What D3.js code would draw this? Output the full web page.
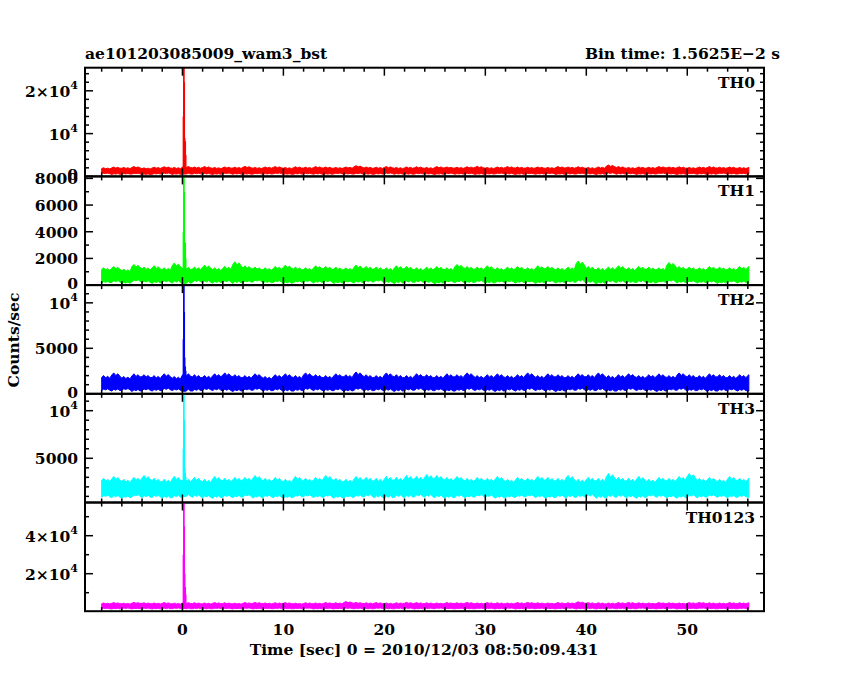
<!DOCTYPE html>
<html><head><meta charset="utf-8">
<script src="https://cdn.jsdelivr.net/npm/d3@7"></script>
<style>
body{margin:0;background:#fff}
text{font-family:"DejaVu Serif",serif;font-weight:bold;fill:#000}
</style></head>
<body><svg id="chart" width="850" height="680"></svg>
<script>
// per-second envelope of the 1/64 s light curves, t = -8 .. 55
const seconds = d3.range(-8, 56);
const th0Hi = [2000,2200,2100,2300,2000,2150,2250,2100,2400,2200,2300,2100,2200,2150,2350,2100,2200,2300,2100,2250,2150,2300,2200,2100,2200,2500,2200,2150,2300,2100,2200,2250,2100,2300,2200,2150,2250,2350,2100,2200,2300,2200,2150,2200,2100,2300,2200,2250,2100,2200,2650,2300,2100,2200,2150,2300,2200,2250,2100,2200,2300,2150,2200,2100];
const th0Lo = [600,450,500,550,400,500,600,450,500,550,500,450,600,500,450,550,500,600,450,500,550,500,450,600,500,550,450,500,600,500,450,550,500,450,600,500,550,450,500,600,500,450,550,500,600,450,500,550,500,450,600,500,550,450,500,600,500,450,550,500,450,600,500,550];
const th1Hi = [1300,1400,1200,1550,1350,1450,1300,1650,1400,1350,1500,1300,1400,1750,1450,1350,1300,1400,1500,1350,1300,1450,1400,1350,1300,1500,1400,1350,1300,1450,1400,1300,1350,1400,1300,1550,1400,1350,1450,1300,1350,1400,1300,1450,1400,1300,1350,1800,1400,1300,1350,1450,1300,1400,1350,1300,1700,1400,1350,1300,1400,1350,1300,1400];
const th1Lo = [150,200,100,250,180,120,200,150,100,220,180,150,200,120,180,250,150,200,100,180,220,150,200,120,180,150,200,250,150,120,180,200,150,100,200,180,150,220,120,180,200,150,180,120,200,150,180,220,150,100,200,180,150,200,120,180,220,150,200,150,180,120,200,150];
const th2Hi = [2000,2300,1900,2200,2100,2000,2200,1900,2300,2100,2000,2200,2300,2100,2000,2200,1900,2100,2200,2000,2300,2100,2000,2200,2100,2400,2100,2000,2300,2100,2000,2200,2100,2000,2200,2100,2300,2000,2100,2200,2000,2100,2300,2000,2200,2100,2000,2200,2100,2300,2000,2100,2200,2000,2100,2200,2000,2300,2100,2000,2200,2100,2000,2100];
const th2Lo = [350,300,400,250,350,300,400,350,250,300,400,350,300,250,350,400,300,350,250,300,400,350,300,350,250,400,300,350,300,250,350,400,300,350,250,300,400,350,300,250,350,300,400,350,300,250,350,400,300,350,250,300,400,350,300,250,350,400,300,350,250,300,350,300];
const th3Hi = [2900,3100,2800,3000,3200,2900,2800,3100,2900,3000,2800,3100,2900,3000,3000,3200,2900,3000,2800,3100,2900,3000,3200,2900,2800,3100,3000,2900,3100,3000,3200,3100,3300,3200,3000,3100,2900,3000,2900,3100,2800,3000,2900,3100,3000,2900,3200,2800,3000,2900,3400,3000,2900,3100,2800,3000,2900,3100,3400,2900,3000,2800,3100,2900];
const th3Lo = [900,850,800,950,850,900,800,850,950,900,850,800,900,850,950,800,900,850,800,900,950,850,900,800,850,900,950,850,800,900,850,950,900,850,800,900,850,950,900,800,850,900,950,850,800,900,850,900,950,800,850,900,850,800,950,900,850,800,900,850,950,900,850,900];
const thAllHi = [4600,4800,4500,4900,4700,4600,4800,4500,4900,4700,4600,4800,4700,4500,4800,4900,4600,4700,4800,4500,4700,4600,4800,4700,5300,4900,4700,4800,4600,4700,4900,4800,4700,4600,4800,4700,4900,4600,4800,4700,4600,4800,4900,4700,4600,4800,4700,5200,4800,4700,4600,4800,4900,4700,4600,4800,4700,4600,4800,4900,4700,4600,4800,4700];
const thAllLo = [1500,1400,1600,1450,1550,1400,1500,1600,1450,1500,1400,1550,1500,1450,1600,1400,1500,1550,1450,1500,1600,1400,1500,1450,1550,1500,1400,1600,1450,1500,1550,1400,1500,1600,1450,1500,1400,1550,1500,1450,1600,1400,1500,1550,1450,1500,1600,1400,1500,1450,1550,1500,1400,1600,1450,1500,1550,1400,1500,1600,1450,1500,1400,1550];
// burst bins (time, counts/sec per band)
const burstT = [0.08, 0.12, 0.16, 0.2, 0.24, 0.3, 0.34];
const th0Burst = [14000, 30000, 30000, 22000, 9000, 8200, 5000];
const th1Burst = [4000, 9000, 9000, 7000, 3000, 3200, 2000];
const th2Burst = [6000, 13000, 13000, 9000, 4000, 3000, 2500];
const th3Burst = [6000, 13000, 13000, 9000, 4000, 3500, 3000];
const thAllBurst = [30000, 60000, 60000, 45000, 20000, 13000, 9000];

const panels = [
  {name: "TH0", color: "#ff0000", hi: th0Hi, lo: th0Lo, burst: th0Burst, domain: [0, 25400], ticks: [0, 10000, 20000], minor: 2000, labels: ["0", "1e4", "2e4"]},
  {name: "TH1", color: "#00ff00", hi: th1Hi, lo: th1Lo, burst: th1Burst, domain: [0, 8150], ticks: [0, 2000, 4000, 6000, 8000], minor: 1000, labels: ["0", "2000", "4000", "6000", "8000"]},
  {name: "TH2", color: "#0000ff", hi: th2Hi, lo: th2Lo, burst: th2Burst, domain: [0, 11950], ticks: [0, 5000, 10000], minor: 1000, labels: ["0", "5000", "1e4"]},
  {name: "TH3", color: "#00ffff", hi: th3Hi, lo: th3Lo, burst: th3Burst, domain: [357, 11775], ticks: [5000, 10000], minor: 1000, labels: ["5000", "1e4"]},
  {name: "TH0123", color: "#ff00ff", hi: thAllHi, lo: thAllLo, burst: thAllBurst, domain: [260, 57470], ticks: [20000, 40000], minor: 10000, labels: ["2e4", "4e4"]}
];

const plotLeft = 85, plotRight = 764, plotTop = 67.7, panelH = 108.7;
const svg = d3.select("#chart");
const x = d3.scaleLinear().domain([-9.65, 57.6]).range([plotLeft, plotRight]);

function tickLabel(sel, s) {
  if (s.startsWith("1e")) {
    sel.append("tspan").text("10");
    sel.append("tspan").attr("dy", -8).attr("font-size", 11).text(s.slice(2));
  } else if (s.includes("e")) {
    sel.append("tspan").text(s[0] + "\u00d710");
    sel.append("tspan").attr("dy", -8).attr("font-size", 11).text(s.slice(2));
  } else sel.text(s);
}

panels.forEach((p, i) => {
  const y0 = plotTop + i * panelH, y1 = y0 + panelH;
  const y = d3.scaleLinear().domain(p.domain).range([y1, y0]);
  const g = svg.append("g");
  const clipId = "clip" + i;
  g.append("clipPath").attr("id", clipId).append("rect")
    .attr("x", plotLeft).attr("y", y0).attr("width", plotRight - plotLeft).attr("height", panelH);
  const pg = g.append("g").attr("clip-path", `url(#${clipId})`);

  // noise envelope: jagged band through each second's high/low
  const pts = [];
  seconds.forEach((s, k) => {
    const h = p.hi[k], l = p.lo[k], span = h - l;
    pts.push({t: s, hi: h - span * 0.12, lo: l});
    pts.push({t: s + 0.2, hi: h, lo: l + span * 0.1});
    pts.push({t: s + 0.4, hi: h - span * 0.15, lo: l + span * 0.05});
    pts.push({t: s + 0.6, hi: h - span * 0.05, lo: l + span * 0.12});
    pts.push({t: s + 0.8, hi: h - span * 0.18, lo: l + span * 0.03});
  });
  pts.push({t: 56.1, hi: p.hi[p.hi.length - 1], lo: p.lo[p.lo.length - 1]});
  pg.append("path").datum(pts)
    .attr("fill", p.color).attr("stroke", p.color).attr("stroke-width", 1)
    .attr("d", d3.area().x(d => x(d.t)).y0(d => y(d.lo)).y1(d => y(d.hi)));
  // burst bins
  pg.selectAll("line.burst").data(burstT).join("line")
    .attr("x1", d => x(d)).attr("x2", d => x(d))
    .attr("y1", y(p.lo[8])).attr("y2", (d, k) => y(p.burst[k]))
    .attr("stroke", p.color).attr("stroke-width", 1.2);

  // frame
  g.append("rect").attr("x", plotLeft).attr("y", y0).attr("width", plotRight - plotLeft).attr("height", panelH)
    .attr("fill", "none").attr("stroke", "#000").attr("stroke-width", 2);

  // x ticks top and bottom
  d3.range(-8, 58, 2).forEach(t => {
    const len = t % 10 === 0 ? 8 : 4;
    g.append("line").attr("x1", x(t)).attr("x2", x(t)).attr("y1", y1).attr("y2", y1 - len).attr("stroke", "#000").attr("stroke-width", 1.5);
    g.append("line").attr("x1", x(t)).attr("x2", x(t)).attr("y1", y0).attr("y2", y0 + len).attr("stroke", "#000").attr("stroke-width", 1.5);
  });
  // y ticks both sides
  const yMinor = d3.range(Math.ceil(p.domain[0] / p.minor) * p.minor, p.domain[1], p.minor);
  yMinor.forEach(v => {
    const len = p.ticks.includes(v) ? 8 : 4;
    g.append("line").attr("x1", plotLeft).attr("x2", plotLeft + len).attr("y1", y(v)).attr("y2", y(v)).attr("stroke", "#000").attr("stroke-width", 1.5);
    g.append("line").attr("x1", plotRight).attr("x2", plotRight - len).attr("y1", y(v)).attr("y2", y(v)).attr("stroke", "#000").attr("stroke-width", 1.5);
  });
  p.ticks.forEach((v, k) => {
    const tx = g.append("text").attr("x", 78).attr("y", v === 0 ? y(v) + 4 : y(v) + 6)
      .attr("text-anchor", "end").attr("font-size", 15.5);
    tickLabel(tx, p.labels[k]);
  });
  g.append("text").attr("x", plotRight - 9).attr("y", y0 + 20)
    .attr("text-anchor", "end").attr("font-size", 15.5).text(p.name);
});

// x tick labels
const plotBottom = plotTop + panels.length * panelH;
svg.append("g").selectAll("text").data(d3.range(0, 51, 10)).join("text")
  .attr("x", d => x(d)).attr("y", plotBottom + 24).attr("text-anchor", "middle")
  .attr("font-size", 15.5).text(d => d);

svg.append("text").attr("x", 85).attr("y", 59).attr("font-size", 15.5).text("ae101203085009_wam3_bst");
svg.append("text").attr("x", 780).attr("y", 59).attr("text-anchor", "end").attr("font-size", 15.5).text("Bin time: 1.5625E\u22122 s");
svg.append("text").attr("x", 424).attr("y", 655).attr("text-anchor", "middle").attr("font-size", 15.5)
  .text("Time [sec] 0 = 2010/12/03 08:50:09.431");
svg.append("text").attr("transform", "translate(19,340) rotate(-90)").attr("text-anchor", "middle")
  .attr("font-size", 15.5).text("Counts/sec");
</script></body></html>
